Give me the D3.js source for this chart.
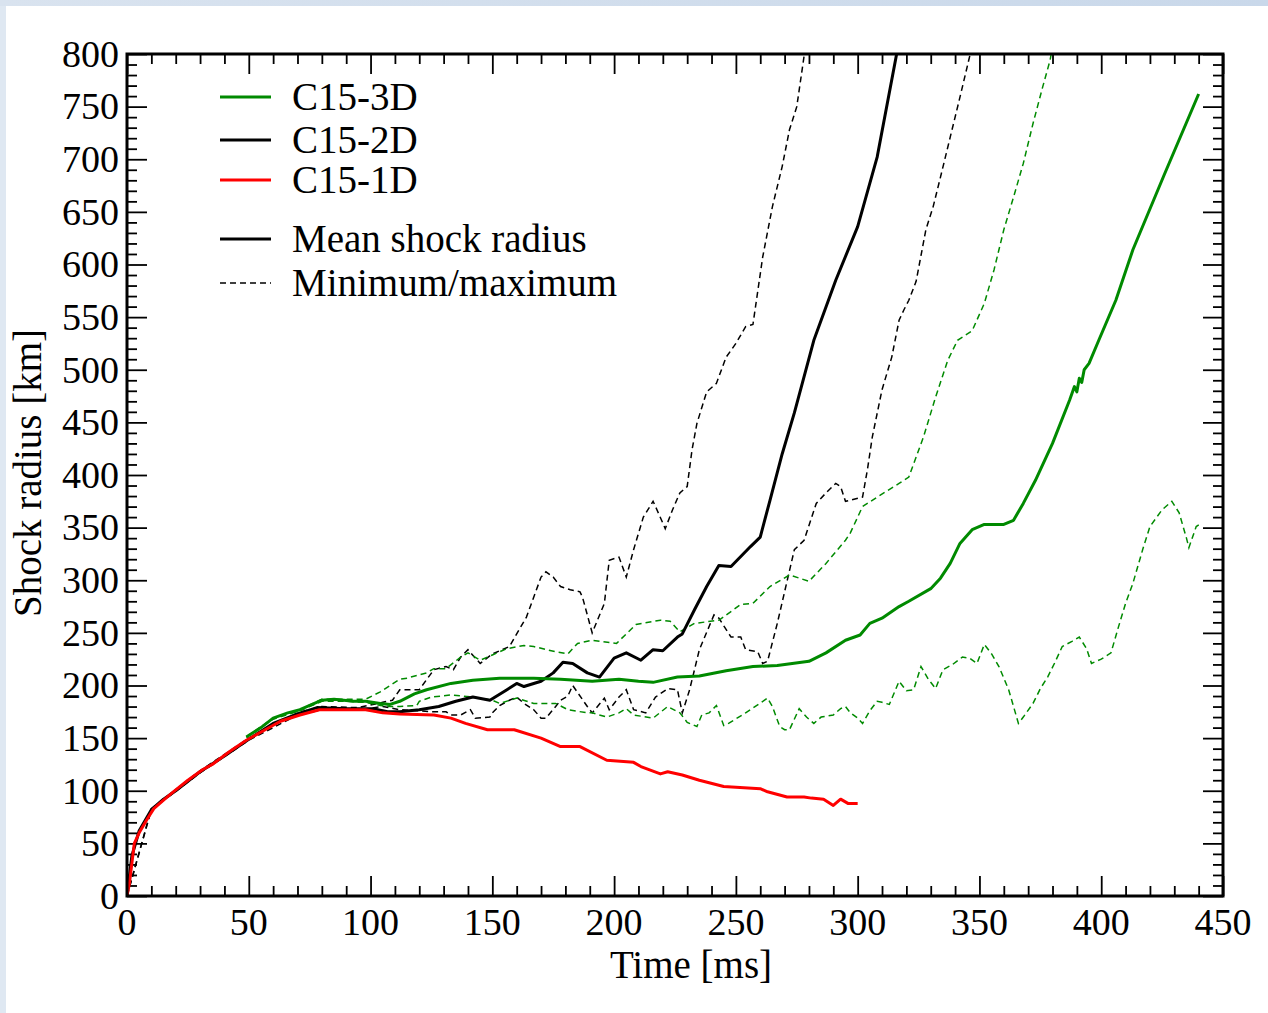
<!DOCTYPE html>
<html>
<head>
<meta charset="utf-8">
<script src="https://cdn.jsdelivr.net/npm/d3@7"></script>
<style>
  body { margin: 0; background: #fff; }
  svg text { font-family: "Liberation Serif", "Times New Roman", serif; fill: #000; }
</style>
</head>
<body>
<div id="chart"></div>
<script>
// Shock radius data: [time ms, radius km]
var c15_1d = [[0,0],[1,12],[3,50],[5,60],[8,72],[11,83],[15,91],[19,99],[25,110],[31,120],[35,125],[42,137],[49,148],[56,157],[63,166],[71,172],[79,177],[88,177],[98,177],[105,174],[112,173],[126,172],[133,169],[139,164],[148,158],[159,158],[170,150],[178,142],[186,142],[197,129],[208,127],[211,123],[219,116],[222,118],[228,115],[235,110],[245,104],[260,102],[263,99],[271,94],[278,94],[281,93],[286,92],[290,86],[293,92],[296,88],[300,88]];

var c15_2d_mean = [[0,0],[2,38],[5,62],[10,82],[15,92],[20,100],[30,118],[40,133],[50,149],[60,164],[70,173],[78,179],[90,178],[101,178],[107,175],[112,175],[120,177],[128,180],[135,185],[142,189],[149,186],[156,196],[160,202],[163,199],[170,204],[175,212],[179,222],[183,221],[189,212],[194,208],[200,226],[205,231],[211,224],[216,234],[220,233],[226,246],[228,249],[233,272],[238,294],[243,314],[248,313],[256,332],[260,341],[264,376],[269,420],[274,459],[282,528],[291,585],[300,636],[308,702],[316,800],[318,820]];

var c15_2d_max = [[0,0],[10,83],[30,119],[50,150],[70,174],[80,180],[95,179],[105,184],[109,186],[112,196],[120,196],[126,215],[131,218],[134,215],[137,227],[140,234],[145,221],[150,230],[157,237],[161,253],[164,265],[170,303],[172,308],[175,303],[178,294],[182,291],[186,289],[187,284],[191,250],[196,278],[198,319],[202,322],[205,303],[208,329],[212,360],[216,375],[217,370],[221,349],[224,367],[227,383],[230,389],[232,424],[234,449],[238,479],[242,487],[246,512],[250,525],[254,541],[257,543],[261,607],[265,655],[269,693],[272,728],[275,750],[278,798],[280,820]];

var c15_2d_min = [[0,0],[10,82],[30,117],[50,148],[70,172],[80,177],[95,177],[105,180],[112,177],[126,175],[131,175],[133,172],[137,172],[141,177],[143,169],[149,170],[150,174],[153,181],[157,186],[160,189],[163,183],[167,177],[170,169],[172,169],[176,180],[178,186],[181,190],[183,200],[189,180],[191,174],[196,188],[198,177],[202,189],[205,196],[208,177],[213,174],[217,189],[222,197],[226,196],[228,174],[231,196],[235,234],[241,267],[243,264],[248,246],[252,246],[254,234],[259,232],[261,221],[263,223],[267,259],[274,329],[278,338],[283,373],[287,383],[291,392],[293,389],[295,375],[297,376],[302,379],[304,405],[306,436],[310,481],[314,512],[317,547],[319,557],[321,566],[324,584],[328,633],[331,655],[334,683],[338,721],[342,759],[346,798],[348,820]];

var c15_3d_mean = [[49,151],[55,160],[60,169],[66,174],[71,177],[76,182],[80,186],[85,187],[93,185],[98,185],[104,183],[108,182],[112,185],[118,192],[123,196],[133,202],[142,205],[153,207],[167,207],[178,206],[191,204],[202,206],[210,204],[216,203],[226,208],[235,209],[246,214],[257,218],[267,219],[280,223],[287,231],[295,243],[301,248],[305,259],[310,264],[317,275],[321,280],[330,292],[334,302],[338,316],[342,335],[347,348],[352,353],[360,353],[364,357],[368,373],[373,395],[380,430],[387,471],[389,484],[390,479],[391,492],[392,488],[393,500],[395,506],[399,528],[406,566],[413,614],[426,686],[440,762]];

var c15_3d_max = [[49,151],[60,169],[71,177],[80,187],[90,187],[98,187],[104,194],[112,206],[115,207],[123,212],[126,216],[131,216],[137,227],[140,231],[145,224],[150,229],[156,235],[163,238],[167,237],[176,232],[181,230],[185,240],[191,243],[201,240],[209,258],[219,262],[223,261],[227,251],[233,259],[243,262],[252,277],[257,278],[264,294],[272,305],[280,299],[287,316],[295,338],[297,345],[302,370],[308,379],[317,392],[321,398],[327,436],[332,474],[337,509],[341,528],[347,537],[352,563],[356,595],[360,633],[364,664],[368,696],[372,734],[376,769],[379,794],[381,820]];

var c15_3d_min = [[49,151],[60,168],[71,176],[80,185],[90,185],[98,184],[104,181],[108,180],[112,180],[119,181],[120,185],[125,189],[133,191],[142,189],[150,186],[153,183],[160,188],[167,183],[172,183],[176,183],[181,177],[189,174],[191,174],[197,170],[202,174],[205,178],[208,172],[216,169],[222,180],[227,174],[230,165],[234,161],[236,172],[239,174],[242,181],[245,162],[247,164],[254,174],[256,177],[263,188],[265,180],[268,161],[270,158],[272,158],[276,178],[279,170],[282,164],[285,170],[290,172],[293,178],[295,180],[297,174],[300,169],[302,164],[305,176],[308,185],[310,184],[313,182],[317,204],[320,195],[323,196],[326,218],[329,206],[332,197],[335,215],[339,220],[343,227],[346,226],[349,221],[352,239],[355,230],[358,218],[362,196],[364,180],[366,164],[368,170],[372,183],[375,197],[378,208],[381,222],[384,237],[388,242],[391,246],[394,235],[396,221],[400,225],[404,231],[407,255],[410,278],[413,297],[417,329],[420,351],[425,367],[429,375],[432,364],[435,340],[436,331],[439,351],[441,354]];

// axis ticks
var xTicks = [0, 50, 100, 150, 200, 250, 300, 350, 400, 450];
var yTicks = [0, 50, 100, 150, 200, 250, 300, 350, 400, 450, 500, 550, 600, 650, 700, 750, 800];

// legend
var legendLabels = ["C15-3D", "C15-2D", "C15-1D", "Mean shock radius", "Minimum/maximum"];
var legendColors = ["#008a00", "#000", "#ff0000", "#000", "#000"];

var W = 1268, H = 1013;
var margin = { left: 127, right: 1223, top: 54, bottom: 896 };

var svg = d3.select("#chart").append("svg").attr("width", W).attr("height", H);

// light blue frame around the figure
var defs = svg.append("defs");
var grad = defs.append("linearGradient").attr("id", "topband").attr("x1", 0).attr("x2", 1).attr("y1", 0).attr("y2", 0);
grad.append("stop").attr("offset", 0).attr("stop-color", "#d9e3ef");
grad.append("stop").attr("offset", 1).attr("stop-color", "#c9d8ea");
svg.append("rect").attr("width", W).attr("height", H).attr("fill", "#dfe8f2");
svg.append("rect").attr("width", W).attr("height", 6).attr("fill", "url(#topband)");
svg.append("rect").attr("x", 6).attr("y", 6).attr("width", W - 6).attr("height", H - 6).attr("fill", "#fff");

defs.append("clipPath").attr("id", "plotclip").append("rect")
  .attr("x", margin.left).attr("y", margin.top)
  .attr("width", margin.right - margin.left).attr("height", margin.bottom - margin.top);

var x = d3.scaleLinear().domain([0, 450]).range([margin.left, margin.right]);
var y = d3.scaleLinear().domain([0, 800]).range([margin.bottom, margin.top]);

var minorX = d3.range(0, 451, 10).filter(function (d) { return d % 50 != 0; });
var minorY = d3.range(0, 801, 10).filter(function (d) { return d % 50 != 0; });

// draw ticks on all four sides, pointing inward
function ticks(axis, tr, vals, size) {
  var g = svg.append("g").attr("transform", tr)
    .call(axis.tickValues(vals).tickSize(-size).tickFormat(""));
  g.select(".domain").remove();
  g.selectAll("line").attr("stroke", "#000").attr("stroke-width", 1.8);
  return g;
}
ticks(d3.axisBottom(x), "translate(0," + margin.bottom + ")", xTicks, 20);
ticks(d3.axisBottom(x), "translate(0," + margin.bottom + ")", minorX, 10);
ticks(d3.axisTop(x), "translate(0," + margin.top + ")", xTicks, 20);
ticks(d3.axisTop(x), "translate(0," + margin.top + ")", minorX, 10);
ticks(d3.axisLeft(y), "translate(" + margin.left + ",0)", yTicks, 20);
ticks(d3.axisLeft(y), "translate(" + margin.left + ",0)", minorY, 10);
ticks(d3.axisRight(y), "translate(" + margin.right + ",0)", yTicks, 20);
ticks(d3.axisRight(y), "translate(" + margin.right + ",0)", minorY, 10);

// tick labels
svg.append("g").selectAll("text").data(xTicks).enter().append("text")
  .attr("x", function (d) { return x(d); })
  .attr("y", 935)
  .attr("text-anchor", "middle")
  .style("font-size", "38px")
  .text(function (d) { return d; });
svg.append("g").selectAll("text").data(yTicks).enter().append("text")
  .attr("x", 119)
  .attr("y", function (d) { return y(d) + 12.8; })
  .attr("text-anchor", "end")
  .style("font-size", "38px")
  .text(function (d) { return d; });

// axis titles
svg.append("text").attr("x", 691).attr("y", 978).attr("text-anchor", "middle")
  .style("font-size", "39px").text("Time [ms]");
svg.append("text").attr("transform", "translate(41,473) rotate(-90)").attr("text-anchor", "middle")
  .style("font-size", "39px").text("Shock radius [km]");

// curves
var line = d3.line().x(function (d) { return x(d[0]); }).y(function (d) { return y(d[1]); });
var curves = svg.append("g").attr("clip-path", "url(#plotclip)");

function dashed(data, color) {
  curves.append("path").datum(data).attr("d", line).attr("fill", "none")
    .attr("stroke", color).attr("stroke-width", 1.5).attr("stroke-dasharray", "6,4");
}
function solid(data, color) {
  curves.append("path").datum(data).attr("d", line).attr("fill", "none")
    .attr("stroke", color).attr("stroke-width", 3).attr("stroke-linejoin", "round");
}
dashed(c15_2d_max, "#000");
dashed(c15_2d_min, "#000");
dashed(c15_3d_max, legendColors[0]);
dashed(c15_3d_min, legendColors[0]);
solid(c15_2d_mean, "#000");
solid(c15_3d_mean, legendColors[0]);
solid(c15_1d, legendColors[2]);

// frame
svg.append("rect").attr("x", margin.left).attr("y", margin.top)
  .attr("width", margin.right - margin.left).attr("height", margin.bottom - margin.top)
  .attr("fill", "none").attr("stroke", "#000").attr("stroke-width", 3);

// legend
var legendY = [97, 140, 180, 239, 283];
var leg = svg.append("g");
legendLabels.forEach(function (lab, i) {
  leg.append("line").attr("x1", 220).attr("x2", 271).attr("y1", legendY[i]).attr("y2", legendY[i])
    .attr("stroke", legendColors[i])
    .attr("stroke-width", i == 4 ? 1.3 : 3)
    .attr("stroke-dasharray", i == 4 ? "6,4" : null);
  leg.append("text").attr("x", 292).attr("y", legendY[i] + 13)
    .style("font-size", "39px").text(lab);
});
</script>
</body>
</html>
